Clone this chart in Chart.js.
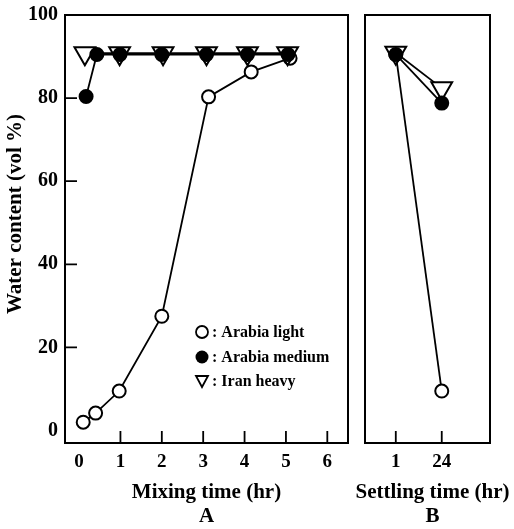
<!DOCTYPE html>
<html>
<head>
<meta charset="utf-8">
<script src="https://cdn.jsdelivr.net/npm/chart.js@4.4.1/dist/chart.umd.min.js"></script>
<style>
  html, body { margin: 0; padding: 0; background: #fff; }
  #wrap { position: relative; width: 514px; height: 529px; }
  #mixChart { position: absolute; left: 0; top: 0; }
  #settleChart { position: absolute; left: 352px; top: 0; }
</style>
</head>
<body>
<div id="wrap">
  <canvas id="mixChart" width="356" height="529"></canvas>
  <canvas id="settleChart" width="162" height="529"></canvas>
</div>
<script>
// Panel A: mixing time (hr)
const mixTimeLight = [0.1, 0.4, 0.97, 2.0, 3.13, 4.16, 5.1];
const lightMix = [2.0, 4.2, 9.5, 27.5, 80.3, 86.3, 89.6];
const mixTimeMedium = [0.17, 0.43, 0.99, 2.0, 3.08, 4.07, 5.05];
const mediumMix = [80.4, 90.5, 90.5, 90.5, 90.5, 90.5, 90.5];
const mixTimeHeavy = [0.14, 0.98, 2.03, 3.08, 4.07, 5.04];
const heavyMix = [90.8, 90.8, 90.8, 90.8, 90.8, 90.8];

// Panel B: settling time (hr)
const settlingLabels = ['1', '24'];
const lightSettle = [90.5, 9.5];
const mediumSettle = [90.5, 78.8];
const heavySettle = [90.9, 82.4];

const mixTicks = [0, 1, 2, 3, 4, 5, 6];
const waterTicks = [0, 20, 40, 60, 80, 100];

const seriesNames = ['Arabia light', 'Arabia medium', 'Iran heavy'];

const SERIF = "'Liberation Serif', 'Times New Roman', serif";

function pts(xs, ys) {
    return xs.map((x, i) => ({ x: x, y: ys[i] }));
}

// frame around the plot area plus inward tick marks
const framePlugin = {
    id: 'frame',
    beforeDatasetsDraw(chart, args, opts) {
        const { ctx, chartArea: a, scales } = chart;
        ctx.save();
        ctx.strokeStyle = '#000';
        ctx.lineWidth = 2;
        ctx.strokeRect(a.left, a.top, a.right - a.left, a.bottom - a.top);
        ctx.lineWidth = 1.8;
        ctx.beginPath();
        scales.x.ticks.forEach(t => {
            if (opts.skipX && opts.skipX.includes(t.value)) return;
            const px = scales.x.getPixelForValue(t.value);
            ctx.moveTo(px, a.bottom);
            ctx.lineTo(px, a.bottom - 12);
        });
        if (opts.yTicks) {
            scales.y.ticks.forEach(t => {
                if (t.value === 0 || t.value === 100) return;
                const py = scales.y.getPixelForValue(t.value);
                ctx.moveTo(a.left, py);
                ctx.lineTo(a.left + 12, py);
            });
        }
        ctx.stroke();
        ctx.restore();
    }
};

// free-standing axis titles (so they are not squeezed to the plot width)
const titlePlugin = {
    id: 'freeTitles',
    afterDraw(chart, args, opts) {
        const { ctx, chartArea: a } = chart;
        ctx.save();
        ctx.fillStyle = '#000';
        ctx.font = 'bold 21px ' + SERIF;
        ctx.textAlign = 'center';
        ctx.textBaseline = 'middle';
        (opts.items || []).forEach(it => {
            ctx.save();
            const cx = it.vertical ? it.x : (a.left + a.right) / 2 + (it.dx || 0);
            const cy = it.vertical ? (a.top + a.bottom) / 2 + (it.dy || 0) : it.y;
            ctx.translate(cx, cy);
            if (it.vertical) ctx.rotate(-Math.PI / 2);
            ctx.fillText(it.text, 0, 0);
            ctx.restore();
        });
        ctx.restore();
    }
};

// legend drawn inside panel A
const legendPlugin = {
    id: 'innerLegend',
    afterDraw(chart) {
        const { ctx, chartArea: a } = chart;
        const x0 = a.left + 137;
        const rows = [a.top + 317, a.top + 342, a.top + 366];
        ctx.save();
        ctx.strokeStyle = '#000';
        ctx.lineWidth = 1.8;
        // open circle
        ctx.beginPath();
        ctx.arc(x0, rows[0], 6, 0, Math.PI * 2);
        ctx.fillStyle = '#fff';
        ctx.fill();
        ctx.stroke();
        // filled circle
        ctx.fillStyle = '#000';
        ctx.beginPath();
        ctx.arc(x0, rows[1], 6.5, 0, Math.PI * 2);
        ctx.fill();
        // open triangle pointing down
        ctx.beginPath();
        ctx.moveTo(x0 - 6, rows[2] - 5);
        ctx.lineTo(x0 + 6, rows[2] - 5);
        ctx.lineTo(x0, rows[2] + 6);
        ctx.closePath();
        ctx.stroke();
        ctx.font = 'bold 16px ' + SERIF;
        ctx.textBaseline = 'middle';
        ctx.textAlign = 'left';
        seriesNames.forEach((name, i) => {
            ctx.fillText(': ' + name, x0 + 10, rows[i] + 1);
        });
        ctx.restore();
    }
};

function lineSet(label, data, style, order) {
    const base = {
        label: label,
        data: data,
        showLine: true,
        borderColor: '#000',
        borderWidth: 1.8,
        tension: 0,
        pointBorderColor: '#000',
        pointBorderWidth: 2,
        order: order
    };
    if (style === 'open') {
        base.pointStyle = 'circle';
        base.pointRadius = 6.5;
        base.pointBackgroundColor = '#fff';
    } else if (style === 'filled') {
        base.pointStyle = 'circle';
        base.pointRadius = 6.5;
        base.pointBackgroundColor = '#000';
    } else {
        base.pointStyle = 'triangle';
        base.pointRotation = 180;
        base.pointRadius = 12;
        base.pointBackgroundColor = '#fff';
    }
    base.pointHoverRadius = base.pointRadius;
    return base;
}

const tickFont = { family: SERIF, weight: 'bold', size: 20 };

function fitY(s) {
    s.width = 65;
    s.paddingTop = 0;
    s.paddingBottom = 0;
}

new Chart(document.getElementById('mixChart'), {
    type: 'scatter',
    data: {
        datasets: [
            lineSet(seriesNames[1], pts(mixTimeMedium, mediumMix), 'filled', 1),
            lineSet(seriesNames[2], pts(mixTimeHeavy, heavyMix), 'triangle', 2),
            lineSet(seriesNames[0], pts(mixTimeLight, lightMix), 'open', 3)
        ]
    },
    options: {
        responsive: false,
        animation: false,
        layout: { autoPadding: false, padding: { top: 15, right: 8, left: 0, bottom: 0 } },
        plugins: {
            legend: { display: false },
            tooltip: { enabled: false },
            frame: { yTicks: true, skipX: [0] },
            freeTitles: {
                items: [
                    { text: 'Mixing time (hr)', y: 493 },
                    { text: 'A', y: 517 },
                    { text: 'Water content (vol %)', vertical: true, x: 16, dy: -15 }
                ]
            }
        },
        scales: {
            x: {
                type: 'linear',
                min: -0.34,
                max: 6.5,
                afterBuildTicks: s => { s.ticks = mixTicks.map(v => ({ value: v })); },
                afterFit: s => { s.height = 86; s.paddingLeft = 0; s.paddingRight = 0; },
                grid: { display: false, drawTicks: false },
                border: { display: false },
                ticks: { color: '#000', font: { ...tickFont, size: 19 }, padding: 8, maxRotation: 0, autoSkip: false }
            },
            y: {
                type: 'linear',
                min: -3,
                max: 100,
                afterBuildTicks: s => { s.ticks = waterTicks.map(v => ({ value: v })); },
                afterFit: fitY,
                grid: { display: false, drawTicks: false },
                border: { display: false },
                ticks: { color: '#000', font: tickFont, padding: 7 }
            }
        }
    },
    plugins: [framePlugin, legendPlugin, titlePlugin]
});

new Chart(document.getElementById('settleChart'), {
    type: 'scatter',
    data: {
        datasets: [
            lineSet(seriesNames[1], pts([0, 1], mediumSettle), 'filled', 1),
            lineSet(seriesNames[2], pts([0, 1], heavySettle), 'triangle', 2),
            lineSet(seriesNames[0], pts([0, 1], lightSettle), 'open', 3)
        ]
    },
    options: {
        responsive: false,
        animation: false,
        layout: { autoPadding: false, padding: { top: 15, right: 24, left: 13, bottom: 0 } },
        plugins: {
            legend: { display: false },
            tooltip: { enabled: false },
            frame: { yTicks: false },
            freeTitles: {
                items: [
                    { text: 'Settling time (hr)', y: 493, dx: 5 },
                    { text: 'B', y: 517, dx: 5 }
                ]
            }
        },
        scales: {
            x: {
                type: 'linear',
                min: -0.67,
                max: 2.05,
                afterBuildTicks: s => { s.ticks = settlingLabels.map((l, i) => ({ value: i })); },
                afterFit: s => { s.height = 86; s.paddingLeft = 0; s.paddingRight = 0; },
                grid: { display: false, drawTicks: false },
                border: { display: false },
                ticks: {
                    color: '#000', font: { ...tickFont, size: 19 }, padding: 8, maxRotation: 0, autoSkip: false,
                    callback: v => settlingLabels[v]
                }
            },
            y: {
                type: 'linear',
                display: false,
                min: -3,
                max: 100
            }
        }
    },
    plugins: [framePlugin, titlePlugin]
});
</script>
</body>
</html>
